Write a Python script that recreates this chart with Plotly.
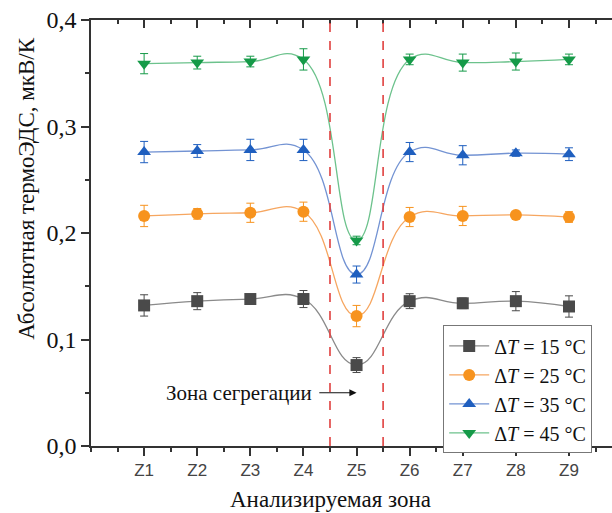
import plotly.graph_objects as go

zones = ["Z1", "Z2", "Z3", "Z4", "Z5", "Z6", "Z7", "Z8", "Z9"]
xpos = [1, 2, 3, 4, 5, 6, 7, 8, 9]

s15 = [0.132, 0.136, 0.138, 0.138, 0.076, 0.136, 0.134, 0.136, 0.131]
e15 = [0.010, 0.008, 0.004, 0.008, 0.007, 0.007, 0.005, 0.009, 0.010]
s25 = [0.216, 0.218, 0.219, 0.220, 0.122, 0.215, 0.216, 0.217, 0.215]
e25 = [0.010, 0.005, 0.009, 0.009, 0.010, 0.009, 0.009, 0.003, 0.005]
s35 = [0.276, 0.277, 0.278, 0.278, 0.161, 0.276, 0.273, 0.275, 0.274]
e35 = [0.010, 0.006, 0.010, 0.010, 0.008, 0.009, 0.009, 0.003, 0.006]
s45 = [0.359, 0.360, 0.361, 0.363, 0.193, 0.363, 0.360, 0.361, 0.363]
e45 = [0.0095, 0.006, 0.005, 0.010, 0.004, 0.005, 0.008, 0.008, 0.005]

labels = ["Δ<i>T</i> = 15 °C", "Δ<i>T</i> = 25 °C", "Δ<i>T</i> = 35 °C", "Δ<i>T</i> = 45 °C"]
series = [s15, s25, s35, s45]
errs = [e15, e25, e35, e45]
mcolors = ["#4a4a4a", "#f7931e", "#1f5fbf", "#159a48"]
lcolors = ["#8a8a8a", "#f6a660", "#7393d3", "#6cc28c"]
symbols = ["square", "circle", "triangle-up", "triangle-down"]

serif = "'Liberation Serif', 'DejaVu Serif', serif"
sans = "'Liberation Sans', Arial, sans-serif"
fig = go.Figure()
for lab, ys, es, mc, lc, sy in zip(labels, series, errs, mcolors, lcolors, symbols):
    fig.add_trace(go.Scatter(
        x=xpos, y=ys, name=lab, mode="lines+markers",
        line=dict(color=lc, width=1.3, shape="spline", smoothing=1.3),
        marker=dict(symbol=sy, size=12, color=mc),
        error_y=dict(type="data", array=es, visible=True, color=mc, thickness=1, width=4),
    ))

for xv in [4.5, 5.5]:
    fig.add_shape(type="line", x0=xv, x1=xv, y0=0, y1=0.4, xref="x", yref="y",
                  line=dict(color="#e0403f", width=1.6, dash="dash"))

fig.add_annotation(x=4.2, y=0.05, xref="x", yref="y", text="Зона сегрегации",
                   showarrow=False, xanchor="right", yanchor="middle",
                   font=dict(family=serif, size=21, color="#111"))
fig.add_annotation(x=5.0, y=0.05, ax=4.27, ay=0.05, xref="x", yref="y",
                   axref="x", ayref="y", text="", showarrow=True,
                   arrowhead=2, arrowsize=1.2, arrowwidth=1.2, arrowcolor="#111")

fig.add_annotation(x=-0.123, y=0.606, xref="paper", yref="paper", text="Абсолютная термоЭДС, мкВ/К",
                   textangle=-90, showarrow=False, xanchor="center", yanchor="middle",
                   font=dict(family=serif, size=23, color="#111"))
fig.add_annotation(x=0.46, y=-0.125, xref="paper", yref="paper", text="Анализируемая зона",
                   showarrow=False, xanchor="center", yanchor="middle",
                   font=dict(family=serif, size=23, color="#111"))

fig.update_layout(
    width=612, height=513,
    margin=dict(l=91, r=0, t=20, b=67),
    plot_bgcolor="white", paper_bgcolor="white",
    separators=", ",
    font=dict(family=serif),
    showlegend=True,
    legend=dict(x=0.676, y=0.283, xanchor="left", yanchor="top",
                bordercolor="#777", borderwidth=1, bgcolor="white",
                font=dict(family=serif, size=20, color="#111"),
                tracegroupgap=0, itemwidth=40),
    xaxis=dict(range=[0, 9.81], tickvals=xpos, ticktext=zones,
               showgrid=False, zeroline=False,
               showline=True, linecolor="#333", linewidth=1.5,
               ticks="outside", ticklen=8, tickwidth=1.5, tickcolor="#333",
               minor=dict(dtick=0.5, tick0=0, ticks="outside", ticklen=4, tickwidth=1.5, tickcolor="#333"),
               tickfont=dict(family=sans, size=17, color="#444")),
    xaxis2=dict(range=[0, 9.81], overlaying="x", side="top", matches="x",
                showticklabels=False, showgrid=False, zeroline=False,
                showline=True, linecolor="#333", linewidth=1.5,
                tickvals=xpos, ticks="inside", ticklen=8, tickwidth=1.5, tickcolor="#333",
                minor=dict(dtick=0.5, tick0=0, ticks="inside", ticklen=4, tickwidth=1.5, tickcolor="#333")),
    yaxis=dict(range=[0, 0.4], dtick=0.1, tickformat=".1f",
               showgrid=False, zeroline=False,
               showline=True, linecolor="#333", linewidth=1.5,
               ticks="outside", ticklen=8, tickwidth=1.5, tickcolor="#333",
               minor=dict(dtick=0.05, ticks="outside", ticklen=4, tickwidth=1.5, tickcolor="#333"),
               tickfont=dict(family=serif, size=24, color="#111")),
)
fig.add_trace(go.Scatter(x=[None], y=[None], xaxis="x2", showlegend=False, hoverinfo="skip"))

fig.write_html("out.html")
